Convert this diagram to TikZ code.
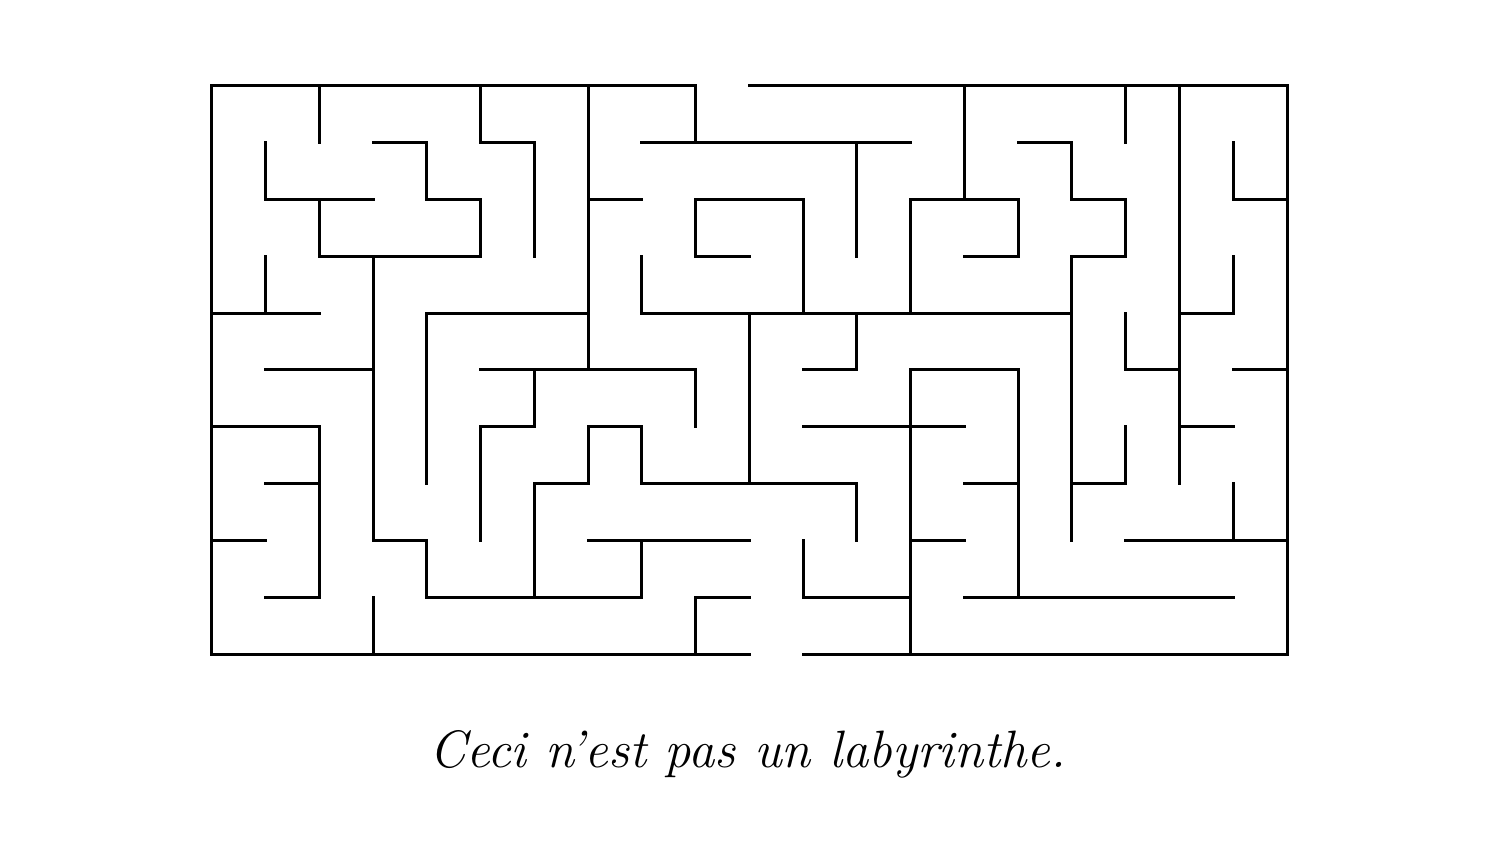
\documentclass[tikz,border=0pt]{standalone}
\begin{document}
\begin{tikzpicture}[x=26.875pt,y=-28.4pt,line join=miter,line cap=rect,
	wall/.style={line width=1.5pt},
	caption/.style={font=\fontsize{26.3}{28}\selectfont\itshape,inner sep=0pt,anchor=base}]
		\useasboundingbox (-3.944,-1.514) rectangle (23.963,13.327);
		% outer walls, with the two openings
		\draw[wall] (9,1)--(9,0)--(0,0)--(0,10)--(10,10);
		\draw[wall] (10,0)--(20,0)--(20,10)--(11,10);
		% left part
		\draw[wall] (2,0)--(2,1);
		\draw[wall] (5,0)--(5,1)--(6,1)--(6,3);
		\draw[wall] (7,0)--(7,5);
		\draw[wall] (7,2)--(8,2);
		\draw[wall] (1,1)--(1,2)--(3,2);
		\draw[wall] (3,1)--(4,1)--(4,2)--(5,2)--(5,3)--(2,3)--(2,2);
		\draw[wall] (1,3)--(1,4);
		\draw[wall] (0,4)--(2,4);
		\draw[wall] (4,7)--(4,4)--(7,4);
		\draw[wall] (3,3)--(3,8)--(4,8)--(4,9)--(8,9)--(8,8);
		\draw[wall] (1,5)--(3,5);
		\draw[wall] (0,6)--(2,6)--(2,9)--(1,9);
		\draw[wall] (1,7)--(2,7);
		\draw[wall] (0,8)--(1,8);
		\draw[wall] (3,9)--(3,10);
		% middle part
		\draw[wall] (9,6)--(9,5)--(5,5);
		\draw[wall] (6,5)--(6,6)--(5,6)--(5,8);
		\draw[wall] (6,9)--(6,7)--(7,7)--(7,6)--(8,6)--(8,7)--(12,7)--(12,8);
		\draw[wall] (7,8)--(10,8);
		\draw[wall] (10,9)--(9,9)--(9,10);
		\draw[wall] (11,8)--(11,9)--(13,9);
		\draw[wall] (8,1)--(13,1);
		\draw[wall] (12,1)--(12,3);
		\draw[wall] (10,3)--(9,3)--(9,2)--(11,2)--(11,4);
		\draw[wall] (8,3)--(8,4)--(16,4);
		\draw[wall] (10,4)--(10,7);
		\draw[wall] (11,5)--(12,5)--(12,4);
		\draw[wall] (11,6)--(14,6);
		% right part
		\draw[wall] (13,10)--(13,5)--(15,5)--(15,9);
		\draw[wall] (13,8)--(14,8);
		\draw[wall] (14,7)--(15,7);
		\draw[wall] (14,9)--(19,9);
		\draw[wall] (14,0)--(14,2);
		\draw[wall] (13,4)--(13,2)--(15,2)--(15,3)--(14,3);
		\draw[wall] (15,1)--(16,1)--(16,2)--(17,2)--(17,3)--(16,3)--(16,8);
		\draw[wall] (17,0)--(17,1);
		\draw[wall] (18,0)--(18,7);
		\draw[wall] (19,1)--(19,2)--(20,2);
		\draw[wall] (19,3)--(19,4)--(18,4);
		\draw[wall] (17,4)--(17,5)--(18,5);
		\draw[wall] (19,5)--(20,5);
		\draw[wall] (18,6)--(19,6);
		\draw[wall] (16,7)--(17,7)--(17,6);
		\draw[wall] (17,8)--(20,8);
		\draw[wall] (19,7)--(19,8);
		\node[caption] (motto) at (9.97,12.0) {Ceci n'est pas un labyrinthe.};
		\end{tikzpicture}
\end{document}
